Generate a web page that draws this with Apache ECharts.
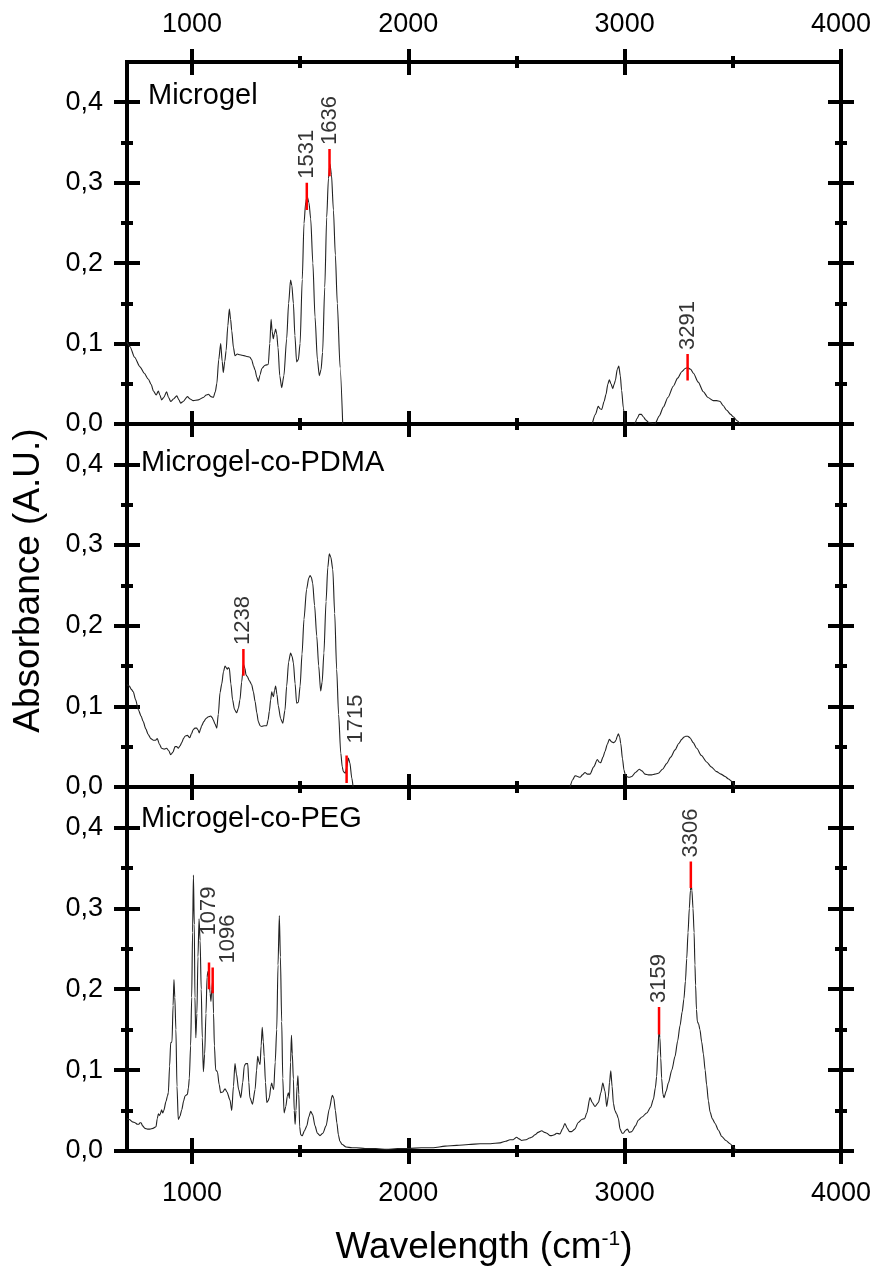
<!DOCTYPE html>
<html>
<head>
<meta charset="utf-8">
<script src="https://cdn.jsdelivr.net/npm/echarts@6/dist/echarts.min.js"></script>
<style>
  html, body { margin: 0; padding: 0; background: #fff; }
  #chart { width: 879px; height: 1270px; }
</style>
</head>
<body>
<div id="chart"></div>
<script>
// FTIR spectra: [wavenumber (cm-1), absorbance]; null marks a gap in the trace
const microgel = [
  [700,0.102],[714,0.096],[735,0.083],[760,0.071],[780,0.063],[798,0.056],[812,0.049],[822,0.041],
  [835,0.036],[845,0.041],[852,0.036],[860,0.030],[870,0.033],[883,0.040],[892,0.033],[902,0.028],
  [915,0.031],[930,0.035],[940,0.030],[948,0.026],[960,0.028],[979,0.034],[992,0.031],[1006,0.029],
  [1030,0.030],[1053,0.033],[1066,0.036],[1076,0.037],[1088,0.034],[1099,0.033],[1108,0.040],[1115,0.050],
  [1124,0.080],[1133,0.100],[1140,0.078],[1145,0.064],[1152,0.078],[1158,0.091],[1166,0.122],[1173,0.143],
  [1179,0.130],[1184,0.116],[1192,0.095],[1199,0.085],[1210,0.087],[1222,0.086],[1240,0.085],[1253,0.084],
  [1268,0.083],[1276,0.080],[1285,0.072],[1292,0.067],[1300,0.058],[1307,0.053],[1315,0.061],[1323,0.069],
  [1338,0.073],[1353,0.074],[1360,0.100],[1366,0.130],[1371,0.115],[1376,0.106],[1381,0.112],[1387,0.118],
  [1392,0.112],[1398,0.095],[1406,0.060],[1415,0.045],[1425,0.060],[1438,0.106],[1447,0.150],[1456,0.179],
  [1462,0.172],[1469,0.150],[1476,0.110],[1484,0.077],[1492,0.080],[1500,0.100],[1510,0.180],[1518,0.249],
  [1526,0.276],[1533,0.283],[1541,0.275],[1549,0.255],[1559,0.200],[1569,0.133],[1580,0.080],[1589,0.060],
  [1597,0.068],[1604,0.089],[1614,0.170],[1623,0.257],[1631,0.305],[1638,0.323],[1645,0.310],[1654,0.266],
  [1663,0.210],[1672,0.150],[1685,0.070],[1697,0.000],[1705,null],
  [2850,0.000],[2865,0.012],[2878,0.022],[2886,0.019],[2894,0.018],[2905,0.028],[2914,0.037],[2922,0.049],
  [2929,0.055],[2937,0.050],[2945,0.044],[2951,0.049],[2957,0.054],[2966,0.068],[2973,0.072],[2980,0.060],
  [2986,0.042],[2994,0.020],[3002,0.000],[3025,null],
  [3048,0.000],[3058,0.007],[3068,0.012],[3077,0.012],[3086,0.009],[3098,0.005],[3110,0.002],[3140,0.000],
  [3160,0.010],[3179,0.021],[3200,0.033],[3225,0.047],[3245,0.057],[3264,0.065],[3280,0.069],[3292,0.070],
  [3305,0.068],[3318,0.063],[3340,0.052],[3364,0.040],[3385,0.033],[3410,0.029],[3425,0.029],[3441,0.028],
  [3455,0.023],[3472,0.017],[3490,0.012],[3502,0.009],[3520,0.004],[3533,0.000]
];

const microgelPdma = [
  [700,0.127],[711,0.125],[720,0.121],[729,0.118],[740,0.108],[752,0.096],[765,0.088],[775,0.081],
  [787,0.072],[798,0.065],[810,0.060],[822,0.058],[832,0.058],[840,0.060],[850,0.053],[860,0.048],
  [872,0.047],[883,0.048],[893,0.045],[902,0.040],[912,0.043],[922,0.050],[930,0.050],[937,0.048],
  [945,0.051],[953,0.055],[961,0.060],[968,0.063],[979,0.064],[990,0.061],[998,0.066],[1006,0.071],
  [1014,0.073],[1022,0.073],[1028,0.071],[1034,0.067],[1040,0.072],[1045,0.076],[1055,0.081],[1065,0.085],
  [1076,0.087],[1087,0.088],[1094,0.086],[1099,0.083],[1107,0.078],[1115,0.073],[1122,0.090],[1130,0.117],
  [1138,0.128],[1146,0.143],[1153,0.150],[1158,0.148],[1164,0.146],[1168,0.148],[1173,0.147],[1180,0.128],
  [1188,0.108],[1197,0.096],[1207,0.092],[1215,0.098],[1222,0.108],[1230,0.130],[1238,0.152],[1245,0.147],
  [1250,0.139],[1256,0.137],[1265,0.132],[1276,0.127],[1284,0.118],[1292,0.106],[1300,0.092],[1307,0.081],
  [1315,0.076],[1323,0.075],[1335,0.076],[1346,0.076],[1352,0.083],[1358,0.094],[1364,0.108],[1369,0.118],
  [1373,0.114],[1377,0.112],[1382,0.120],[1387,0.125],[1393,0.115],[1399,0.101],[1410,0.085],[1420,0.079],
  [1430,0.095],[1438,0.125],[1447,0.155],[1456,0.166],[1463,0.162],[1469,0.154],[1477,0.128],[1484,0.104],
  [1492,0.105],[1500,0.125],[1509,0.165],[1518,0.208],[1530,0.245],[1540,0.259],[1546,0.262],[1552,0.260],
  [1558,0.253],[1567,0.225],[1577,0.187],[1586,0.150],[1595,0.119],[1602,0.130],[1610,0.166],[1620,0.230],
  [1628,0.272],[1635,0.289],[1642,0.285],[1651,0.270],[1660,0.215],[1669,0.146],[1678,0.090],[1688,0.042],
  [1695,0.025],[1700,0.019],[1709,0.017],[1716,0.025],[1723,0.036],[1730,0.030],[1739,0.011],[1745,0.000],
  [1800,null],
  [2748,0.000],[2760,0.009],[2771,0.014],[2782,0.013],[2794,0.012],[2805,0.015],[2817,0.018],[2828,0.016],
  [2840,0.016],[2857,0.025],[2874,0.034],[2882,0.031],[2889,0.030],[2900,0.037],[2909,0.044],[2920,0.053],
  [2929,0.059],[2940,0.056],[2948,0.055],[2955,0.056],[2960,0.058],[2966,0.063],[2971,0.066],[2977,0.062],
  [2982,0.054],[2990,0.035],[2997,0.021],[3003,0.015],[3010,0.013],[3020,0.012],[3033,0.013],[3050,0.018],
  [3068,0.022],[3080,0.020],[3094,0.016],[3110,0.015],[3125,0.015],[3140,0.016],[3156,0.017],[3175,0.022],
  [3194,0.029],[3213,0.037],[3233,0.046],[3250,0.054],[3264,0.059],[3275,0.062],[3282,0.063],[3292,0.063],
  [3302,0.061],[3317,0.055],[3333,0.048],[3355,0.039],[3379,0.031],[3400,0.025],[3425,0.019],[3445,0.016],
  [3464,0.013],[3480,0.010],[3495,0.007],[3510,0.000]
];

const microgelPeg = [
  [700,0.040],[711,0.039],[725,0.036],[737,0.035],[748,0.033],[755,0.033],[760,0.035],[765,0.035],
  [772,0.031],[783,0.028],[795,0.027],[806,0.027],[820,0.028],[834,0.030],[840,0.040],[845,0.046],
  [850,0.044],[853,0.045],[860,0.051],[865,0.047],[870,0.050],[880,0.061],[887,0.068],[891,0.072],
  [897,0.105],[902,0.134],[908,0.135],[913,0.180],[917,0.212],[921,0.190],[926,0.150],[931,0.080],
  [937,0.039],[945,0.043],[953,0.051],[962,0.062],[968,0.068],[979,0.070],[984,0.078],[988,0.090],
  [994,0.130],[999,0.190],[1003,0.270],[1007,0.341],[1011,0.280],[1014,0.190],[1018,0.140],[1023,0.170],
  [1028,0.240],[1033,0.287],[1038,0.260],[1043,0.200],[1048,0.140],[1053,0.098],[1059,0.120],[1065,0.170],
  [1070,0.215],[1074,0.222],[1079,0.215],[1084,0.195],[1088,0.185],[1092,0.200],[1096,0.210],[1100,0.170],
  [1104,0.130],[1110,0.100],[1118,0.098],[1126,0.082],[1133,0.072],[1143,0.073],[1153,0.077],[1162,0.073],
  [1176,0.063],[1184,0.050],[1192,0.080],[1199,0.108],[1206,0.095],[1216,0.076],[1226,0.066],[1235,0.085],
  [1242,0.105],[1249,0.108],[1258,0.108],[1263,0.085],[1268,0.066],[1280,0.058],[1292,0.076],[1299,0.100],
  [1304,0.117],[1310,0.110],[1315,0.107],[1320,0.130],[1325,0.153],[1330,0.135],[1334,0.117],[1340,0.085],
  [1346,0.060],[1352,0.062],[1358,0.066],[1365,0.080],[1369,0.084],[1374,0.078],[1378,0.076],[1385,0.110],
  [1392,0.150],[1398,0.230],[1404,0.291],[1409,0.240],[1415,0.160],[1420,0.090],[1426,0.047],[1434,0.055],
  [1441,0.068],[1446,0.072],[1451,0.065],[1456,0.110],[1460,0.143],[1464,0.120],[1469,0.089],[1473,0.050],
  [1477,0.033],[1481,0.050],[1486,0.080],[1490,0.093],[1494,0.070],[1498,0.030],[1503,0.020],[1510,0.019],
  [1520,0.025],[1531,0.031],[1540,0.042],[1549,0.049],[1558,0.045],[1569,0.031],[1580,0.022],[1592,0.019],
  [1605,0.022],[1620,0.031],[1635,0.052],[1649,0.069],[1656,0.065],[1663,0.050],[1670,0.035],[1677,0.020],
  [1684,0.012],[1695,0.008],[1712,0.005],[1740,0.004],[1760,0.004],[1800,0.003],[1850,0.003],[1900,0.002],
  [1950,0.003],[2000,0.003],[2060,0.004],[2116,0.004],[2170,0.006],[2224,0.007],[2280,0.008],[2332,0.009],
  [2380,0.009],[2424,0.010],[2450,0.012],[2470,0.014],[2485,0.014],[2501,0.017],[2512,0.015],[2524,0.013],
  [2545,0.014],[2560,0.016],[2570,0.017],[2586,0.020],[2600,0.023],[2617,0.025],[2630,0.023],[2640,0.022],
  [2655,0.019],[2663,0.019],[2675,0.020],[2686,0.022],[2701,0.021],[2712,0.027],[2724,0.034],[2735,0.028],
  [2745,0.024],[2755,0.024],[2770,0.027],[2785,0.035],[2802,0.039],[2815,0.040],[2825,0.047],[2840,0.066],
  [2850,0.060],[2863,0.055],[2879,0.060],[2890,0.072],[2899,0.084],[2909,0.074],[2917,0.055],[2925,0.068],
  [2930,0.085],[2936,0.099],[2942,0.080],[2948,0.059],[2955,0.050],[2963,0.046],[2971,0.040],[2979,0.027],
  [2988,0.022],[2994,0.022],[3006,0.026],[3013,0.027],[3022,0.023],[3033,0.024],[3050,0.031],[3063,0.038],
  [3080,0.042],[3102,0.047],[3120,0.054],[3133,0.064],[3142,0.078],[3148,0.092],[3153,0.120],[3159,0.150],
  [3163,0.140],[3167,0.115],[3171,0.090],[3177,0.070],[3182,0.066],[3192,0.074],[3202,0.084],[3218,0.100],
  [3233,0.117],[3245,0.136],[3256,0.155],[3266,0.172],[3274,0.188],[3281,0.210],[3287,0.238],[3293,0.270],
  [3299,0.300],[3304,0.322],[3307,0.330],[3311,0.322],[3316,0.300],[3321,0.270],[3325,0.230],[3328,0.205],
  [3332,0.175],[3336,0.160],[3342,0.157],[3348,0.150],[3356,0.135],[3364,0.120],[3372,0.100],[3379,0.082],
  [3387,0.062],[3395,0.048],[3405,0.040],[3418,0.034],[3433,0.026],[3449,0.018],[3468,0.013],[3487,0.009],
  [3503,0.005],[3515,0.000]
];

// marked bands: [wavenumber, lower absorbance, upper absorbance]
const microgelPeaks = [[1531,0.266,0.300],[1636,0.308,0.342],[3291,0.054,0.087]];
const pdmaPeaks = [[1238,0.138,0.171],[1715,0.005,0.039]];
const pegPeaks = [[1079,0.200,0.233],[1096,0.195,0.227],[3159,0.144,0.178],[3306,0.325,0.358]];

const panelNames = ['Microgel', 'Microgel-co-PDMA', 'Microgel-co-PEG'];
const xMajorTicks = [1000, 2000, 3000, 4000];
const xMinorTicks = [1500, 2500, 3500];
const yMajorTicks = [0, 0.1, 0.2, 0.3, 0.4];
const yMinorTicks = [0.05, 0.15, 0.25, 0.35];

const X_MIN = 700, X_MAX = 4000, Y_MIN = 0, Y_MAX = 0.45;
const FONT = "'Liberation Sans', Arial, Helvetica, sans-serif";

// label nudges for crowded band labels, in the rotated text frame [along text, across text]
const labelNudge = { 1079: [23, 0], 1096: [0, 15], 1715: [8, 9] };

const gridBoxes = [
  { top: 62, height: 362 },
  { top: 424, height: 363 },
  { top: 787, height: 364 }
];
const grids = gridBoxes.map(g => ({ left: 127, right: 38, top: g.top, height: g.height }));

const xAxes = [], yAxes = [];
const mainX = [], mainY = [];
const axisLineOn = { show: true, onZero: false, lineStyle: { color: '#000', width: 4, cap: 'square' } };

function tick(values, len, inside) {
  return { show: true, inside: inside, length: len, customValues: values,
           lineStyle: { color: '#000', width: 4 } };
}
function addX(grid, position, values, len, inside, extra) {
  xAxes.push(Object.assign({
    type: 'value', gridIndex: grid, position: position, min: X_MIN, max: X_MAX,
    axisLine: { show: false, onZero: false }, axisTick: tick(values, len, inside),
    axisLabel: { show: false }, splitLine: { show: false }, minorTick: { show: false }
  }, extra || {}));
  return xAxes.length - 1;
}
function addY(grid, position, values, len, inside, extra) {
  yAxes.push(Object.assign({
    type: 'value', gridIndex: grid, position: position, min: Y_MIN, max: Y_MAX,
    axisLine: { show: false, onZero: false }, axisTick: tick(values, len, inside),
    axisLabel: { show: false }, splitLine: { show: false }, minorTick: { show: false }
  }, extra || {}));
  return yAxes.length - 1;
}

const xLabel = (margin) => ({
  show: true, customValues: xMajorTicks, fontSize: 27, fontFamily: FONT, color: '#000', margin: margin,
  formatter: v => String(Math.round(v))
});

for (let i = 0; i < 3; i++) {
  mainX.push(addX(i, 'bottom', xMajorTicks, 13, true, { axisLine: axisLineOn }));
  addX(i, 'bottom', xMinorTicks, 6, true);
  addX(i, 'top', xMajorTicks, 13, true, { axisLine: axisLineOn });
  addX(i, 'top', xMinorTicks, 6, true);
  if (i === 0) {
    addX(i, 'top', xMajorTicks, 13, false, { axisLabel: xLabel(24) });
    addX(i, 'top', xMinorTicks, 6, false);
  }
  if (i === 2) {
    addX(i, 'bottom', xMajorTicks, 13, false, {
      axisLabel: xLabel(29),
      name: 'Wavelength (cm{sup|-1})', nameLocation: 'middle', nameGap: 78,
      nameTextStyle: {
        fontSize: 37, fontFamily: FONT, color: '#000',
        rich: { sup: { fontSize: 21, fontFamily: FONT, color: '#000', verticalAlign: 'top', padding: [0, 0, 13, 0] } }
      }
    });
    addX(i, 'bottom', xMinorTicks, 6, false);
  }

  mainY.push(addY(i, 'left', yMajorTicks, 13, true, { axisLine: axisLineOn }));
  addY(i, 'left', yMinorTicks, 6, true);
  const leftOut = {
    axisLabel: {
      show: true, customValues: yMajorTicks, fontSize: 27, fontFamily: FONT, color: '#000', margin: 24,
      formatter: v => v.toFixed(1).replace('.', ',')
    }
  };
  if (i === 1) {
    Object.assign(leftOut, {
      name: 'Absorbance (A.U.)', nameLocation: 'middle', nameGap: 80,
      nameTextStyle: { fontSize: 37, fontFamily: FONT, color: '#000', padding: [0, 0, 0, 50] }
    });
  }
  addY(i, 'left', yMajorTicks, 13, false, leftOut);
  addY(i, 'left', yMinorTicks, 6, false);
  addY(i, 'right', yMajorTicks, 13, true, { axisLine: axisLineOn });
  addY(i, 'right', yMinorTicks, 6, true);
  addY(i, 'right', yMajorTicks, 13, false);
  addY(i, 'right', yMinorTicks, 6, false);
}

const spectra = [microgel, microgelPdma, microgelPeg];
const peakSets = [microgelPeaks, pdmaPeaks, pegPeaks];
const series = [];

spectra.forEach((spec, i) => {
  series.push({
    type: 'line', name: panelNames[i], xAxisIndex: mainX[i], yAxisIndex: mainY[i],
    data: spec.map(p => [p[0], p[1] === null ? '-' : p[1]]),
    showSymbol: false, symbol: 'none', smooth: 0.25, smoothMonotone: 'x', connectNulls: false,
    lineStyle: { color: '#222', width: 1.1 }, silent: true, z: 2
  });
  peakSets[i].forEach(pk => {
    series.push({
      type: 'line', xAxisIndex: mainX[i], yAxisIndex: mainY[i],
      data: [[pk[0], pk[1]], [pk[0], pk[2]]],
      symbol: 'none', lineStyle: { color: '#ff0000', width: 2.5 }, silent: true, z: 3
    });
    series.push({
      type: 'scatter', xAxisIndex: mainX[i], yAxisIndex: mainY[i],
      data: [{ value: [pk[0], pk[2]], name: String(pk[0]) }],
      symbol: 'circle', symbolSize: 2, itemStyle: { color: 'rgba(0,0,0,0)' }, silent: true, z: 4,
      label: {
        show: true, formatter: '{t|{b}}', position: 'top', distance: 3, rotate: 90,
        align: 'left', verticalAlign: 'middle', color: '#000',
        rich: { t: { fontSize: 22, fontFamily: FONT, color: '#000' } },
        offset: labelNudge[pk[0]] || [0, 0]
      }
    });
  });
});

const panelLabelPos = [[148, 81], [141, 448], [141, 804]];
const graphic = panelNames.map((t, i) => ({
  type: 'text', left: panelLabelPos[i][0], top: panelLabelPos[i][1], silent: true,
  style: { text: t, fontSize: 29, fontFamily: FONT, fill: '#000' }
}));

const chart = echarts.init(document.getElementById('chart'), null, { renderer: 'canvas' });
chart.setOption({
  animation: false,
  backgroundColor: '#fff',
  grid: grids,
  xAxis: xAxes,
  yAxis: yAxes,
  series: series,
  graphic: graphic
});
</script>
</body>
</html>
